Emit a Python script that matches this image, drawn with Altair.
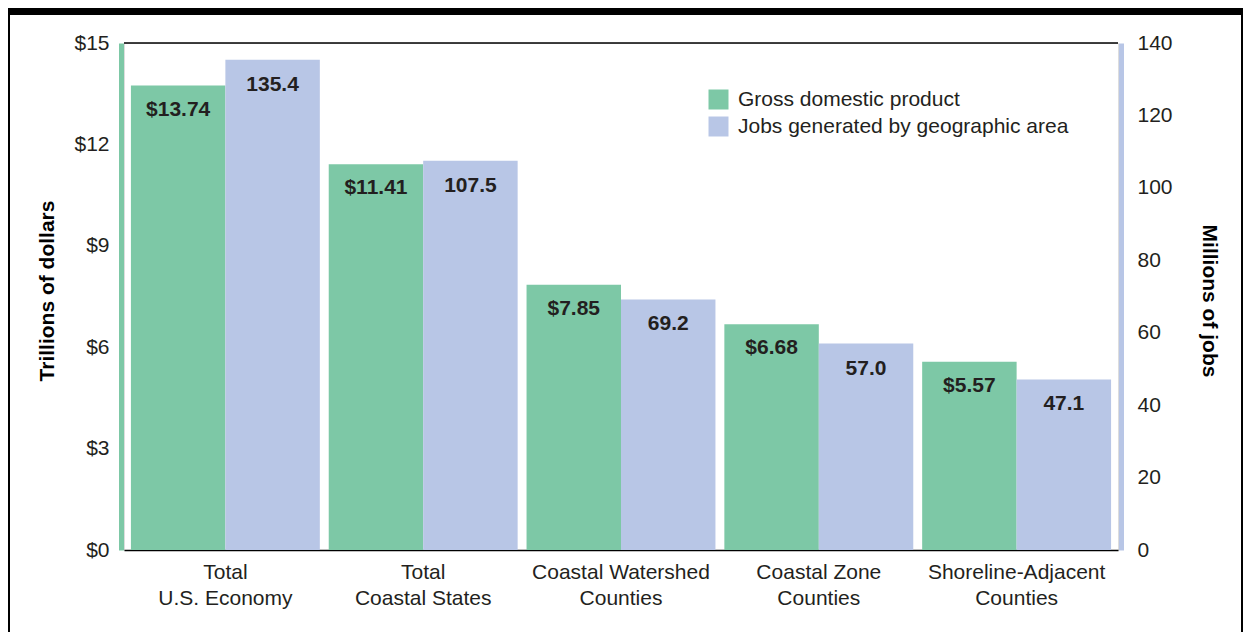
import altair as alt
import pandas as pd

categories = ["Total\nU.S. Economy", "Total\nCoastal States", "Coastal Watershed\nCounties",
              "Coastal Zone\nCounties", "Shoreline-Adjacent\nCounties"]
series_names = ["Gross domestic product", "Jobs generated by geographic area"]
gdp_values = [13.74, 11.41, 7.85, 6.68, 5.57]
jobs_values = [135.4, 107.5, 69.2, 57.0, 47.1]
gdp_ticks = [0, 3, 6, 9, 12, 15]
jobs_ticks = [0, 20, 40, 60, 80, 100, 120, 140]

GREEN = "#7dc8a6"
BLUE = "#b8c6e6"
INK = "#231f20"
FONT = "Liberation Sans"
FS = 21

df_gdp = pd.DataFrame({"category": categories, "series": series_names[0], "value": gdp_values})
df_gdp["label"] = ["$" + f"{v:.2f}" for v in gdp_values]
df_jobs = pd.DataFrame({"category": categories, "series": series_names[1], "value": jobs_values})
df_jobs["label"] = [f"{v:.1f}" for v in jobs_values]

W, H = 994, 507

x_axis = alt.Axis(title=None, labelExpr="split(datum.label, '\\n')", labelFontSize=FS,
                  labelLineHeight=26, labelPadding=11, labelAngle=0, ticks=False,
                  domainColor="black", domainWidth=1.5, labelColor=INK, labelFont=FONT)
x_enc = alt.X("category:N", sort=categories,
              scale=alt.Scale(paddingInner=0.045, paddingOuter=0.035), axis=x_axis)
xo_enc = alt.XOffset("series:N", scale=alt.Scale(domain=series_names))
color_enc = alt.Color("series:N", scale=alt.Scale(domain=series_names, range=[GREEN, BLUE]),
                      legend=alt.Legend(title=None, orient="none", legendX=584, legendY=46,
                                        symbolType="square", symbolSize=400, symbolStrokeWidth=0,
                                        symbolOpacity=1, labelFontSize=FS, labelFont=FONT,
                                        labelColor=INK, labelOffset=9, rowPadding=5,
                                        labelLimit=600))

left_axis = alt.Axis(title="Trillions of dollars", values=gdp_ticks, labelExpr="'$' + datum.value",
                     orient="left", ticks=False, grid=False, domainColor=GREEN, domainWidth=5,
                     offset=3, labelPadding=12, labelFontSize=FS, labelFont=FONT, labelColor=INK,
                     titleFontSize=FS, titleFont=FONT, titleFontWeight="bold", titleColor="black",
                     titleX=-74, titleY=H / 2 - 6, titleAngle=270, titleBaseline="middle")
right_axis = alt.Axis(title="Millions of jobs", values=jobs_ticks, orient="right", ticks=False,
                      grid=False, domainColor=BLUE, domainWidth=5, offset=3, labelPadding=16,
                      labelFontSize=FS, labelFont=FONT, labelColor=INK,
                      titleFontSize=FS, titleFont=FONT, titleFontWeight="bold", titleColor="black",
                      titleX=87, titleY=H / 2 + 4, titleAngle=90, titleBaseline="middle")

gdp_bars = alt.Chart(df_gdp).mark_bar().encode(
    x=x_enc, xOffset=xo_enc,
    y=alt.Y("value:Q", scale=alt.Scale(domain=[0, 15], nice=False), axis=left_axis),
    color=color_enc)
gdp_text = gdp_bars.mark_text(font=FONT, fontSize=FS, fontWeight="bold", baseline="middle",
                              align="center", dy=24).encode(text="label:N", color=alt.value(INK))
jobs_bars = alt.Chart(df_jobs).mark_bar().encode(
    x=x_enc, xOffset=xo_enc,
    y=alt.Y("value:Q", scale=alt.Scale(domain=[0, 140], nice=False), axis=right_axis),
    color=color_enc)
jobs_text = jobs_bars.mark_text(font=FONT, fontSize=FS, fontWeight="bold", baseline="middle",
                                align="center", dy=25).encode(text="label:N", color=alt.value(INK))

one = pd.DataFrame({"a": [0]})
top_line = alt.Chart(one).mark_rule(color="black", strokeWidth=1.5).encode(
    x=alt.value(0), x2=alt.value(W), y=alt.value(0))
top_bar = alt.Chart(one).mark_rect(color="black").encode(
    x=alt.value(-116), x2=alt.value(1119), y=alt.value(-35), y2=alt.value(-28))
left_border = alt.Chart(one).mark_rule(color="black", strokeWidth=2).encode(
    x=alt.value(-115), y=alt.value(-35), y2=alt.value(589))
right_border = alt.Chart(one).mark_rule(color="black", strokeWidth=2).encode(
    x=alt.value(1118), y=alt.value(-35), y2=alt.value(589))

left = alt.layer(gdp_bars, gdp_text)
right = alt.layer(jobs_bars, jobs_text)

chart = alt.layer(left, right, top_line, top_bar, left_border, right_border).resolve_scale(
    y="independent"
).properties(
    width=W, height=H,
    autosize=alt.AutoSizeParams(type="none"),
    padding={"left": 116, "top": 35, "right": 125, "bottom": 82},
).configure_view(stroke=None).configure(background="white")

chart.save("out.html", embed_options={"renderer": "svg", "actions": False})
